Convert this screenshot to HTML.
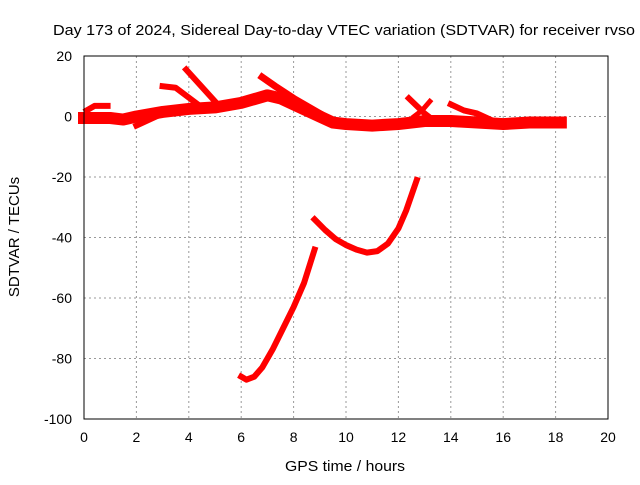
<!DOCTYPE html>
<html><head><meta charset="utf-8"><style>
body{margin:0;background:#fff}
svg text{font-family:"Liberation Sans",sans-serif;font-size:14px;fill:#000}
</style></head><body>
<svg width="640" height="480" xmlns="http://www.w3.org/2000/svg">
<rect width="640" height="480" fill="#fff"/>
<text x="53" y="35" textLength="582" lengthAdjust="spacingAndGlyphs" style="font-size:15px">Day 173 of 2024, Sidereal Day-to-day VTEC variation (SDTVAR) for receiver rvso</text>
<g id="grid"></g>
<g id="series"></g>
<rect x="84" y="56" width="524" height="363" fill="none" stroke="#000" stroke-width="1"/>
<g id="ticks"></g>
<text x="285" y="471" textLength="120" lengthAdjust="spacingAndGlyphs" style="font-size:15px">GPS time / hours</text>
<text x="19" y="237" text-anchor="middle" style="font-size:15px" transform="rotate(-90 19 237)">SDTVAR / TECUs</text>
</svg>
<script>
const xTicks=[0,2,4,6,8,10,12,14,16,18,20];
const yTicks=[20,0,-20,-40,-60,-80,-100];
const mainBand=[[0,-0.5],[1,-0.5],[1.5,-1],[2,0],[3,1.5],[4,2.5],[5,3],[6,4.5],[7,7],[7.5,6],[8,4],[9,0],[9.5,-2],[10,-2.5],[11,-3],[12,-2.5],[13,-1.5],[14,-1.5],[15,-2],[16,-2.5],[17,-2],[18.2,-2]];
const hookStart=[[0.1,2],[0.4,3.5],[0.9,3.5]];
const branchA=[[3,10],[3.5,9.5],[4.5,3]];
const branchB=[[3.9,15.5],[5,5]];
const branchC=[[6.8,13],[7.3,10],[8,6],[9,1]];
const branchD=[[2,-3],[2.5,-1],[3,1]];
const branchE=[[12.4,6],[13,1],[13.3,-1]];
const branchF=[[13.2,5],[12.9,2],[12.6,0]];
const branchG=[[14,4],[14.5,2],[15,1],[15.5,-1]];
const curveLow=[[6,-86],[6.2,-87],[6.5,-86],[6.8,-83],[7.2,-77],[7.6,-70],[8,-63],[8.4,-55],[8.8,-44]];
const curveMid=[[8.8,-34],[9.2,-37.5],[9.6,-40.5],[10,-42.5],[10.4,-44],[10.8,-45],[11.2,-44.5],[11.6,-42],[12,-37],[12.3,-31],[12.5,-26],[12.7,-21]];
const X=h=>84+h*26.2, Y=v=>56+(20-v)*3.025;
const NS="http://www.w3.org/2000/svg";
const grid=document.getElementById('grid'),ticks=document.getElementById('ticks'),ser=document.getElementById('series');
function mk(t,a,p){const e=document.createElementNS(NS,t);for(const k in a)e.setAttribute(k,a[k]);p.appendChild(e);return e;}
xTicks.forEach(t=>{
  if(t>0&&t<20){const g=mk('line',{x1:X(t),x2:X(t),y1:56,y2:419,stroke:'#999','stroke-dasharray':'2,3'},grid);
  
  }
  const l=mk('text',{x:X(t),y:442,'text-anchor':'middle'},ticks);l.textContent=t;
  
  
});
yTicks.forEach(t=>{
  if(t>-100&&t<20){const g=mk('line',{x1:84,x2:608,y1:Y(t),y2:Y(t),stroke:'#999','stroke-dasharray':'2,3'},grid);
  
  }
  const l=mk('text',{x:72,y:Y(t)+5,'text-anchor':'end'},ticks);l.textContent=t;
  
  
});
const all=[[mainBand,12],[hookStart,6],[branchA,6],[branchB,6],[branchC,7],[branchD,6],[branchE,6],[branchF,5],[branchG,6],[curveLow,6],[curveMid,6]];
all.forEach(([d,w])=>{
  const p=mk('polyline',{points:d.map(q=>X(q[0])+','+Y(q[1])).join(' '),fill:'none',stroke:'#f00','stroke-width':w,'stroke-linejoin':'round','stroke-linecap':'square'},ser);
  
  
});
</script>
</body></html>
